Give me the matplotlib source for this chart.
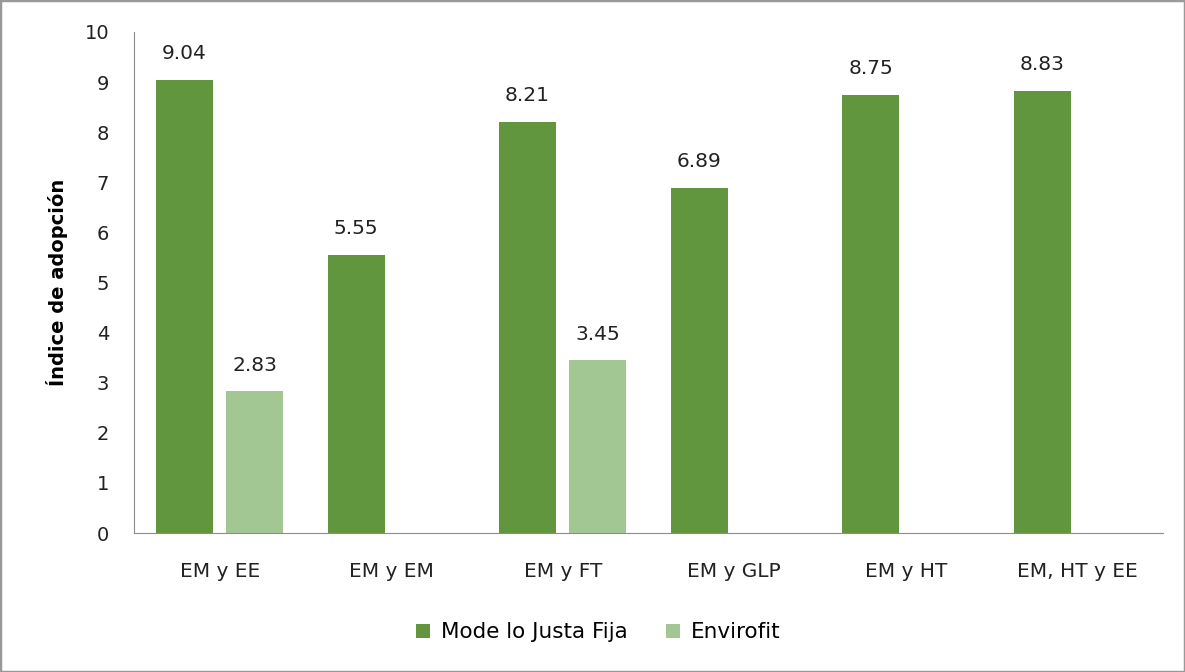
import matplotlib.pyplot as plt, numpy as np
from matplotlib.patches import Rectangle

categories = ['EM y EE', 'EM y EM', 'EM y FT', 'EM y GLP', 'EM y HT', 'EM, HT y EE']
justa_fija = [9.04, 5.55, 8.21, 6.89, 8.75, 8.83]
envirofit = [2.83, np.nan, 3.45, np.nan, np.nan, np.nan]
series_names = ['Mode lo Justa Fija', 'Envirofit']

plt.rcParams['font.family'] = ['DejaVu Sans']

fig = plt.figure(figsize=(11.85, 6.72), dpi=100)
ax = fig.add_axes([0.1131, 0.2068, 0.8683, 0.7456])

x = np.arange(len(categories))
w = 0.333
b1 = ax.bar(x - 0.205, justa_fija, w, color='#62963e', label=series_names[0])
b2 = ax.bar(x + 0.205, envirofit, w, color='#a2c792', label=series_names[1])

for bars, vals in [(b1, justa_fija), (b2, envirofit)]:
    for r, v in zip(bars, vals):
        if np.isnan(v): continue
        ax.annotate('%.2f' % v, (r.get_x() + r.get_width() / 2, v), xytext=(0, 12),
                    textcoords='offset points', ha='center', va='bottom', fontsize=14.5, color='#222222')

ax.set_xlim(-0.5, len(categories) - 0.5)
ax.set_ylim(0, 10)
ax.set_yticks(range(0, 11))
ax.set_xticks(x)
ax.set_xticklabels(categories)
ax.tick_params(axis='both', length=0, colors='#222222')
ax.tick_params(axis='x', pad=21, labelsize=14.5)
ax.tick_params(axis='y', pad=18, labelsize=14)
for s in ['top', 'right']: ax.spines[s].set_visible(False)
for s in ['left', 'bottom']: ax.spines[s].set_color('#8c8c8c')

ax.set_ylabel('Índice de adopción', fontsize=14, fontweight='bold', labelpad=12)

fig.legend(handles=[b1, b2], loc='center', bbox_to_anchor=(0.505, 0.059), ncol=2, frameon=False,
           fontsize=15.5, handlelength=0.65, handleheight=0.65, columnspacing=1.8, handletextpad=0.5)

fig.patches.append(Rectangle((0, 0), 1, 1, transform=fig.transFigure, fill=False,
                             edgecolor='#999999', linewidth=2.5))

fig.savefig('out.png', dpi=100)
